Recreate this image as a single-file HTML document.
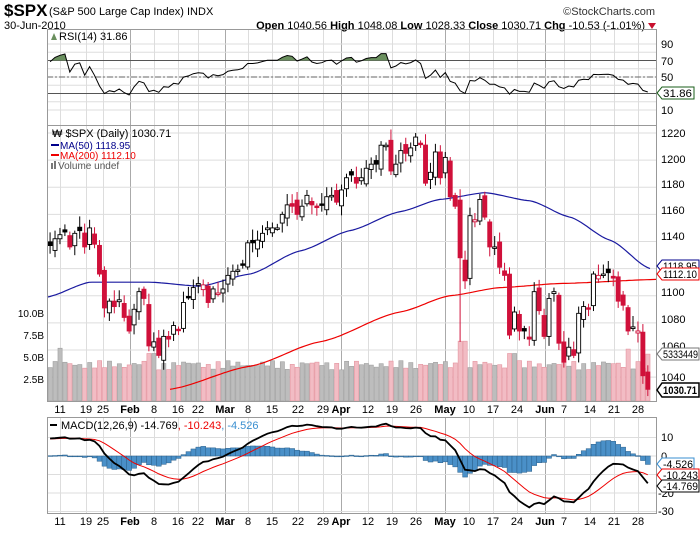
<!DOCTYPE html>
<html><head><meta charset="utf-8">
<style>
body{margin:0;background:#fff;width:700px;height:530px;overflow:hidden;font-family:"Liberation Sans",sans-serif;}
svg text{font-family:"Liberation Sans",sans-serif;}
</style></head>
<body>
<svg id="c" width="700" height="530" xmlns="http://www.w3.org/2000/svg">
<rect x="0" y="0" width="700" height="530" fill="#fff"/>
<g id="grid"></g>
<g id="series"></g>
<!-- header -->
<text x="4" y="16" font-size="17" font-weight="bold" fill="#000">$SPX</text>
<text x="49" y="15" font-size="11" fill="#000">(S&amp;P 500 Large Cap Index) INDX</text>
<text x="655" y="15" font-size="11" fill="#333" text-anchor="end">©StockCharts.com</text>
<text x="4" y="29" font-size="11" fill="#000">30-Jun-2010</text>
<text x="645" y="29" font-size="11" fill="#000" text-anchor="end"><tspan font-weight="bold">Open</tspan> 1040.56 <tspan font-weight="bold">High</tspan> 1048.08 <tspan font-weight="bold">Low</tspan> 1028.33 <tspan font-weight="bold">Close</tspan> 1030.71 <tspan font-weight="bold">Chg</tspan> -10.53 (-1.01%)</text>
<polygon points="648,23 656,23 652,29" fill="#c8102e"/>
<!-- panel borders -->
<rect x="47.5" y="29.5" width="609" height="96" fill="none" stroke="#999"/>
<rect x="47.5" y="125.5" width="609" height="276" fill="none" stroke="#999"/>
<rect x="47.5" y="417.5" width="609" height="96" fill="none" stroke="#999"/>
<!-- legends -->
<polygon points="51,40 54,33 57,40" fill="#6a8f5e"/>
<text x="59" y="40" font-size="11" fill="#000">RSI(14) 31.86</text>
<text x="52" y="137" font-size="11" fill="#000">₩ $SPX (Daily) 1030.71</text>
<line x1="51" y1="145" x2="59" y2="145" stroke="#00008b" stroke-width="2"/>
<text x="60" y="149" font-size="10" fill="#00008b">MA(50) 1118.95</text>
<line x1="51" y1="155" x2="59" y2="155" stroke="#e00" stroke-width="2"/>
<text x="60" y="159" font-size="10" fill="#e00">MA(200) 1112.10</text>
<rect x="51" y="163" width="2" height="6" fill="#777"/><rect x="54" y="161" width="2" height="8" fill="#777"/>
<text x="58" y="169" font-size="10" fill="#555">Volume undef</text>
<line x1="50" y1="425" x2="57" y2="425" stroke="#000" stroke-width="2"/>
<text x="61" y="429" font-size="11" fill="#000">MACD(12,26,9) -14.769<tspan fill="#e00">, -10.243</tspan><tspan fill="#3a8fd0">, -4.526</tspan></text>
<!-- right labels -->
<g font-size="11" fill="#000">
<text x="661" y="48">90</text><text x="661" y="65">70</text><text x="661" y="81">50</text><text x="661" y="114">10</text>
<text x="661" y="137">1220</text><text x="661" y="163">1200</text><text x="661" y="188">1180</text><text x="661" y="214">1160</text><text x="661" y="240">1140</text><text x="661" y="296">1100</text><text x="661" y="323">1080</text><text x="661" y="350">1060</text><text x="661" y="381">1040</text>
<text x="661" y="441">10</text><text x="661" y="460">0</text><text x="658" y="497">-20</text><text x="658" y="515">-30</text>
</g>
<g font-size="10" fill="#000" text-anchor="end">
<text x="44" y="317">10.0B</text><text x="44" y="339">7.5B</text><text x="44" y="361">5.0B</text><text x="44" y="383">2.5B</text>
</g>
<!-- value boxes -->
<g font-size="11">
<polygon points="657,93 662,87 694,87 694,99 662,99" fill="#fff" stroke="#1a5e1a"/><text x="663" y="97" textLength="29" lengthAdjust="spacingAndGlyphs">31.86</text>
<polygon points="657,266 662,260 699,260 699,272 662,272" fill="#fff" stroke="#00008b"/><text x="663" y="270" textLength="34" lengthAdjust="spacingAndGlyphs">1118.95</text>
<polygon points="657,274 662,268 699,268 699,280 662,280" fill="#fff" stroke="#e00"/><text x="663" y="278" textLength="34" lengthAdjust="spacingAndGlyphs">1112.10</text>
<polygon points="657,354 662,348 699,348 699,360 662,360" fill="#fff" stroke="#777"/><text x="663" y="358" textLength="35" lengthAdjust="spacingAndGlyphs">5333449</text>
<polygon points="657,390 662,383 699,383 699,397 662,397" fill="#fff" stroke="#000" stroke-width="1.5"/><text x="663" y="394" font-weight="bold" textLength="34" lengthAdjust="spacingAndGlyphs">1030.71</text>
<polygon points="657,464 662,458 694,458 694,470 662,470" fill="#fff" stroke="#3a8fd0"/><text x="663" y="468" textLength="30" lengthAdjust="spacingAndGlyphs">-4.526</text>
<polygon points="657,475 662,469 699,469 699,481 662,481" fill="#fff" stroke="#e00"/><text x="663" y="479" textLength="35" lengthAdjust="spacingAndGlyphs">-10.243</text>
<polygon points="657,486 662,480 699,480 699,492 662,492" fill="#fff" stroke="#000"/><text x="663" y="490" textLength="35" lengthAdjust="spacingAndGlyphs">-14.769</text>
</g>
<g id="dates" font-size="11" fill="#000" text-anchor="middle"></g>
</svg>
<script>
(function(){
var NS="http://www.w3.org/2000/svg";
function el(p,t,a){var e=document.createElementNS(NS,t);for(var k in a)e.setAttribute(k,a[k]);p.appendChild(e);return e;}
var C=[1133,1137,1137,1142,1145,1147,1136,1146,1148,1136,1150,1138,1116,1091,1096,1092,1097,1084,1074,
1090,1103,1098,1063,1066,1056,1070,1068,1078,1075,1095,1099,1106,1109,1108,1095,1105,1102,1105,
1115,1118,1119,1123,1139,1139,1141,1146,1150,1150,1150,1160,1167,1166,1160,1166,1174,1167,1165,1167,1173,1174,1169,
1178,1187,1189,1183,1187,1194,1197,1197,1211,1211,1192,1197,1207,1205,1209,1217,1212,1183,1191,1206,1187,
1202,1173,1166,1128,1111,1159,1156,1171,1158,1136,1136,1121,1115,1071,1088,1074,1074,1068,1103,1089,
1070,1098,1103,1065,1051,1062,1056,1087,1092,1090,1116,1115,1116,1117,1113,1096,1093,1074,1077,1074,1041,1031];
function X(i){return 40.2+i*4.94;}
function Y(p){return 133+(1220-p)*1.356;}
function VY(v){return 401-v*8.8;}
function RY(v){return 118.25-0.825*v;}
function MY(m){return 456-m*1.85;}
var g=document.getElementById('grid'),s=document.getElementById('series'),d=document.getElementById('dates');
var D=[["11",60,0],["19",86,0],["25",103,0],["Feb",130,1],["8",154,0],["16",178,0],["22",198,0],["Mar",225,1],["8",248,0],["15",272,0],["22",298,0],["29",323,0],["Apr",341,1],["12",368,0],["19",392,0],["26",416,0],["May",445,1],["10",469,0],["17",493,0],["24",517,0],["Jun",545,1],["7",564,0],["14",590,0],["21",614,0],["28",638,0]];
D.forEach(function(q){
  var c=q[2]?"#aaa":"#ddd";
  [[30,125],[126,401],[418,513]].forEach(function(r){el(g,'line',{x1:q[1]+.5,x2:q[1]+.5,y1:r[0],y2:r[1],stroke:c});});
  [413,525].forEach(function(yy){var t=el(d,'text',{x:q[1],y:yy,'font-weight':q[2]?'bold':'normal'});t.textContent=q[0];});
});
for(var v=10;v<=90;v+=10){var yy=RY(v);var st=(v==70||v==30)?"#555":"#ddd";el(g,'line',{x1:47,x2:656,y1:yy,y2:yy,stroke:st});}
el(g,'line',{x1:47,x2:656,y1:RY(50),y2:RY(50),stroke:'#666','stroke-dasharray':'6,2,2,2'});
for(var p=1040;p<=1220;p+=20){el(g,'line',{x1:47,x2:656,y1:Y(p),y2:Y(p),stroke:'#ddd'});}
for(var m=-30;m<=10;m+=10){el(g,'line',{x1:47,x2:656,y1:MY(m),y2:MY(m),stroke:'#ddd'});}
for(var i=0;i<C.length;i++){
  var x=X(i);if(x<47)continue;
  var vol=3.3+0.9*Math.abs(Math.sin(i*1.7))+0.4*Math.abs(Math.sin(i*0.37));
  if(i==22||i==23)vol=5.4; if(i==4)vol=6.0; if(i==85||i==86)vol=6.8; if(i==95||i==96)vol=5.4;if(i==119)vol=5.9;if(i==123)vol=5.33;
  var dn=i>0&&C[i]<C[i-1];
  el(s,'rect',{x:x-2,y:VY(vol),width:4.2,height:401-VY(vol),fill:dn?'#f2bcc4':'#bdbdbd',stroke:dn?'#e4949f':'#a0a0a0','stroke-width':0.6});
}
function interp(pts){var o=[];for(var x=47;x<=656;x+=3){for(var k=0;k<pts.length-1;k++){if(x>=pts[k][0]&&x<=pts[k+1][0]){var t=(x-pts[k][0])/(pts[k+1][0]-pts[k][0]);var tt=t*t*(3-2*t);var pv=pts[k][1]+(pts[k+1][1]-pts[k][1])*(0.5*t+0.5*tt);o.push(x+","+Y(pv).toFixed(1));break;}}}return o.join(" ");}
el(s,'polyline',{points:interp([[170,1031],[250,1048],[320,1066],[400,1088],[450,1100],[500,1106],[560,1109],[656,1112]]),fill:'none',stroke:'#e00','stroke-width':1.2});
el(s,'polyline',{points:interp([[47,1099],[90,1110],[150,1110],[200,1107],[250,1116],[300,1133],[350,1148],[400,1162],[440,1171],[485,1176],[530,1170],[570,1158],[610,1141],[650,1120]]),fill:'none',stroke:'#1a1aa0','stroke-width':1.2});
for(var i=0;i<C.length;i++){
  var x=X(i);if(x<47)continue;
  var pc=i>0?C[i-1]:C[0];
  var o=pc+((i*37)%11-5)*0.9;
  var c=C[i];
  var hi=Math.max(o,c)+2+(i*13%7),lo=Math.min(o,c)-2-(i*17%6);
  if(i==85)lo=1066;
  var dn=c<pc;
  var col=dn?'#d0103a':'#000';
  el(s,'line',{x1:x,x2:x,y1:Y(hi),y2:Y(lo),stroke:col,'stroke-width':1});
  var bt=Y(Math.max(o,c)),bh=Math.max(1.5,Math.abs(Y(o)-Y(c)));
  var hollow=c>=o;
  el(s,'rect',{x:x-2,y:bt,width:4,height:bh,fill:hollow?'#fff':(dn?'#d0103a':'#000'),stroke:col,'stroke-width':0.9});
}
var ag=1.3,al=0.75,R=[];
for(var i=0;i<C.length;i++){var ch=i>0?C[i]-C[i-1]:0;ag=(ag*13+Math.max(ch,0))/14;al=(al*13+Math.max(-ch,0))/14;R.push(100-100/(1+ag/al));}
var rp=[];for(var i=0;i<C.length;i++){var x=X(i);if(x<47)continue;rp.push(x.toFixed(1)+","+RY(R[i]).toFixed(1));}
var defs=el(document.getElementById('c'),'defs',{});var cp=el(defs,'clipPath',{id:'ab'});el(cp,'rect',{x:47,y:29,width:610,height:RY(70)-29});
var first=rp[0].split(",")[0],last=rp[rp.length-1].split(",")[0];
el(s,'polygon',{points:first+","+RY(70)+" "+rp.join(" ")+" "+last+","+RY(70),fill:'#6a8f5e','clip-path':'url(#ab)'});
el(s,'polyline',{points:rp.join(" "),fill:'none',stroke:'#000','stroke-width':1});
var e12=1128,e26=1118,sg=9,M=[],S=[];
for(var i=0;i<C.length;i++){e12+=(C[i]-e12)*2/13;e26+=(C[i]-e26)*2/27;var mm=e12-e26;sg+=(mm-sg)*0.2;M.push(mm);S.push(sg);}
var mp=[],sp=[];
for(var i=0;i<C.length;i++){var x=X(i);if(x<47)continue;var h=M[i]-S[i];
  el(s,'rect',{x:x-2.4,y:Math.min(MY(0),MY(h)),width:4.9,height:Math.max(0.8,Math.abs(MY(h)-MY(0))),fill:'#4a90c8',stroke:'#2a5f8a','stroke-width':0.5});
  mp.push(x.toFixed(1)+","+MY(M[i]).toFixed(1));sp.push(x.toFixed(1)+","+MY(S[i]).toFixed(1));}
el(s,'polyline',{points:sp.join(" "),fill:'none',stroke:'#e00','stroke-width':1});
el(s,'polyline',{points:mp.join(" "),fill:'none',stroke:'#000','stroke-width':1.8});
})();
</script>
</body></html>
